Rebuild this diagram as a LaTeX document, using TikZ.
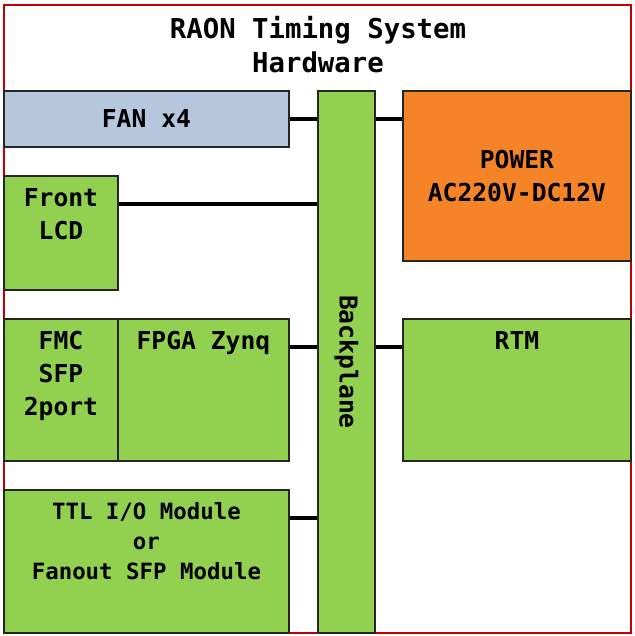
\documentclass[tikz,border=0pt]{standalone}
\usepackage{fontspec}
\setmonofont{DejaVu Sans Mono}
\usetikzlibrary{positioning,calc}
\definecolor{fanblue}{HTML}{B4C7DC}
\definecolor{boardgreen}{HTML}{92D050}
\definecolor{psuorange}{HTML}{F58428}
\definecolor{framered}{HTML}{C00000}

\begin{document}
\begin{tikzpicture}[
  x=0.75pt, y=-0.75pt,
  font=\ttfamily\bfseries\fontsize{18.5}{24.75}\selectfont,
  bx/.style   ={draw=black!85, line width=1.4pt, anchor=north west, inner sep=0pt, align=center},
  sz/.style 2 args={minimum width=#1*0.75pt, minimum height=#2*0.75pt},
  board/.style={bx, fill=boardgreen},
  txt/.style  ={inner sep=0pt, align=center},
  cn/.style   ={line width=3.6pt, draw=black},
]
\useasboundingbox (0,0) rectangle (635,636);

% ---- crate outline + title ----
\node[draw=framered, line width=1.5pt, anchor=north west, inner sep=0pt, sz={627}{628}] (frame) at (3,4) {};
\node[txt, anchor=north, font=\ttfamily\bfseries\fontsize{20.5}{25.8}\selectfont] (title) at (318,16)
  {RAON Timing System\\Hardware};

% ---- boxes ----
\node[bx, fill=fanblue, sz={285}{56}]     (fan)  at (3,90)    {FAN x4};
\node[board, sz={57}{542}]                (bp)   at (317,90)  {};
\node[bx, fill=psuorange, sz={228}{170}]  (pwr)  at (402,90)  {POWER\\AC220V-DC12V};
\node[board, sz={114}{114}]               (lcd)  at (3,175)   {};
\node[board, sz={114}{142}]               (fmc)  at (3,318)   {};
\node[board, sz={171}{142}]               (fpga) at (117,318) {};
\node[board, sz={228}{142}]               (rtm)  at (402,318) {};
\node[board, sz={285}{143}]               (ttl)  at (3,489)   {};

% ---- box texts ----
\node[txt, rotate=-90]             (bpt)   at (bp.center) {Backplane};
\node[txt, below=10pt of lcd.north]  (lcdt)  {Front\\LCD};
\node[txt, below=10pt of fmc.north]  (fmct)  {FMC\\SFP\\2port};
\node[txt, below=10pt of fpga.north] (fpgat) {FPGA Zynq};
\node[txt, below=10pt of rtm.north]  (rtmt)  {RTM};
\node[txt, below=10pt of ttl.north, font=\ttfamily\bfseries\fontsize{16.8}{22.5}\selectfont] (ttlt)
  {TTL I/O Module\\or\\Fanout SFP Module};

% ---- links to backplane ----
\coordinate (lcdp)  at ($(lcd.north east)+(0,29)$);
\coordinate (fpgap) at ($(fpga.north east)+(0,29)$);
\coordinate (rtmp)  at ($(rtm.north west)+(0,29)$);
\coordinate (ttlp)  at ($(ttl.north east)+(0,29)$);
\draw[cn] (fan.east) -- (fan.east -| bp.west);
\draw[cn] (bp.east |- fan.east) -- (pwr.west |- fan.east);
\draw[cn] (lcdp) -- (lcdp -| bp.west);
\draw[cn] (fpgap) -- (fpgap -| bp.west);
\draw[cn] (bp.east |- rtmp) -- (rtmp);
\draw[cn] (ttlp) -- (ttlp -| bp.west);
\end{tikzpicture}
\end{document}
